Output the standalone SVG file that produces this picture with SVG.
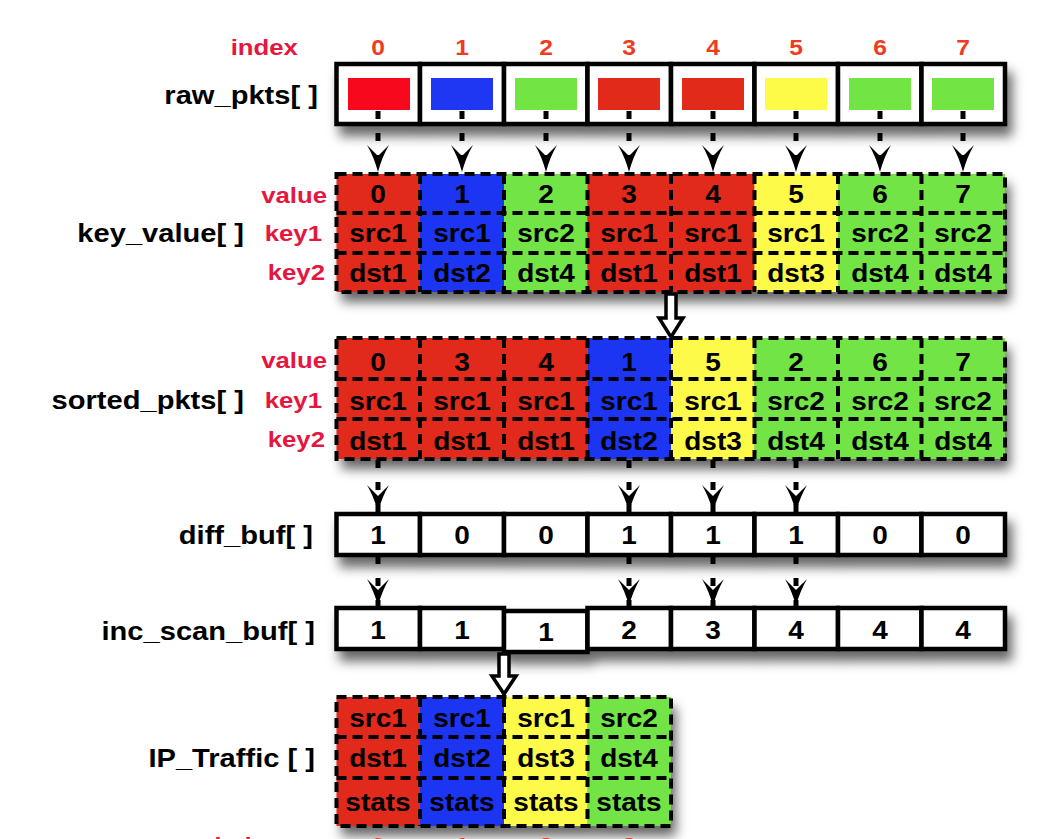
<svg xmlns="http://www.w3.org/2000/svg" width="1045" height="839" viewBox="0 0 1045 839">
  <style>
    text { font-family: "Liberation Sans", Arial, Helvetica, sans-serif; font-weight: bold; fill: #000;
           transform-box: fill-box; transform-origin: center; transform: scaleX(1.12); }
    text.end { text-anchor: end; transform-origin: right center; }
    .name { font-size: 26px; }
    .tag { font-size: 23px; fill: #e5173f; }
    .idx { font-size: 22px; fill: #f03a22; text-anchor: middle; }
    .cell { font-size: 25px; text-anchor: middle; }
    .num { font-size: 25px; text-anchor: middle; }
    .box { fill: #fff; stroke: #000; stroke-width: 4.5; }
    .grid { fill: none; stroke: #000; stroke-width: 4; stroke-dasharray: 10 6; }
    .r0 { fill: #f7081c; } .r { fill: #e22a1a; } .b { fill: #1f36f2; }
    .g { fill: #72e444; } .y { fill: #fefa48; }
    .stem { stroke: #000; stroke-width: 5; stroke-dasharray: 8 14; fill: none; marker-end: url(#head); }
    .fat { fill: #fff; stroke: #000; stroke-width: 3.5; stroke-linejoin: miter; }
  </style>
  <defs>
    <filter id="shadow" x="-10%" y="-30%" width="125%" height="190%">
      <feGaussianBlur in="SourceAlpha" stdDeviation="6"/>
      <feOffset dx="5" dy="10" result="blur"/>
      <feFlood flood-color="#000" flood-opacity="0.6"/>
      <feComposite in2="blur" operator="in"/>
      <feMerge><feMergeNode/><feMergeNode in="SourceGraphic"/></feMerge>
    </filter>
    <marker id="head" markerUnits="userSpaceOnUse" viewBox="0 -12 28 24" refX="27" refY="0"
            markerWidth="28" markerHeight="24" orient="auto">
      <path d="M27,0 Q12,-4 0,-11 Q8,-3 11,0 Q8,3 0,11 Q12,4 27,0 Z" fill="#000"/>
    </marker>
  </defs>

  <rect width="1045" height="839" fill="#fff"/>

  <!-- column headers -->
  <g id="index-header">
    <text class="tag end" x="298" y="55">index</text>
    <text class="idx" x="378" y="55">0</text>
    <text class="idx" x="462" y="55">1</text>
    <text class="idx" x="546" y="55">2</text>
    <text class="idx" x="629" y="55">3</text>
    <text class="idx" x="713" y="55">4</text>
    <text class="idx" x="796" y="55">5</text>
    <text class="idx" x="880" y="55">6</text>
    <text class="idx" x="963" y="55">7</text>
  </g>

  <!-- raw packets -->
  <g id="raw_pkts">
    <text class="name end" x="318" y="104">raw_pkts[ ]</text>
    <g filter="url(#shadow)">
      <rect class="box" x="336.5" y="64" width="83.5" height="60"/>
      <rect class="box" x="420" y="64" width="84" height="60"/>
      <rect class="box" x="504" y="64" width="83.5" height="60"/>
      <rect class="box" x="587.5" y="64" width="83.5" height="60"/>
      <rect class="box" x="671" y="64" width="83.5" height="60"/>
      <rect class="box" x="754.5" y="64" width="83.5" height="60"/>
      <rect class="box" x="838" y="64" width="83.5" height="60"/>
      <rect class="box" x="921.5" y="64" width="83.5" height="60"/>
    </g>
    <rect class="r0" x="348" y="78" width="62" height="32"/>
    <rect class="b" x="431" y="78" width="62" height="32"/>
    <rect class="g" x="515" y="78" width="62" height="32"/>
    <rect class="r" x="598" y="78" width="62" height="32"/>
    <rect class="r" x="682" y="78" width="62" height="32"/>
    <rect class="y" x="765" y="78" width="62" height="32"/>
    <rect class="g" x="849" y="78" width="62" height="32"/>
    <rect class="g" x="932" y="78" width="62" height="32"/>
  </g>

  <!-- key/value pairs -->
  <g id="key_value">
    <text class="name end" x="244" y="242">key_value[ ]</text>
    <text class="tag end" x="327" y="203">value</text>
    <text class="tag end" x="322" y="241">key1</text>
    <text class="tag end" x="325" y="280">key2</text>
    <g filter="url(#shadow)">
      <rect class="r" x="336.5" y="174" width="83.5" height="118"/>
      <rect class="b" x="420" y="174" width="84" height="118"/>
      <rect class="g" x="504" y="174" width="83.5" height="118"/>
      <rect class="r" x="587.5" y="174" width="167" height="118"/>
      <rect class="y" x="754.5" y="174" width="83.5" height="118"/>
      <rect class="g" x="838" y="174" width="167" height="118"/>
    </g>
    <rect class="grid" x="336.5" y="174" width="668.5" height="118"/>
    <path class="grid" d="M336.5,213H1005M336.5,253H1005M420,174V292M504,174V292M587.5,174V292M671,174V292M754.5,174V292M838,174V292M921.5,174V292"/>
    <text class="cell" x="378" y="203">0</text><text class="cell" x="462" y="203">1</text>
    <text class="cell" x="546" y="203">2</text><text class="cell" x="629" y="203">3</text>
    <text class="cell" x="713" y="203">4</text><text class="cell" x="796" y="203">5</text>
    <text class="cell" x="880" y="203">6</text><text class="cell" x="963" y="203">7</text>
    <text class="cell" x="378" y="242">src1</text><text class="cell" x="462" y="242">src1</text>
    <text class="cell" x="546" y="242">src2</text><text class="cell" x="629" y="242">src1</text>
    <text class="cell" x="713" y="242">src1</text><text class="cell" x="796" y="242">src1</text>
    <text class="cell" x="880" y="242">src2</text><text class="cell" x="963" y="242">src2</text>
    <text class="cell" x="378" y="282">dst1</text><text class="cell" x="462" y="282">dst2</text>
    <text class="cell" x="546" y="282">dst4</text><text class="cell" x="629" y="282">dst1</text>
    <text class="cell" x="713" y="282">dst1</text><text class="cell" x="796" y="282">dst3</text>
    <text class="cell" x="880" y="282">dst4</text><text class="cell" x="963" y="282">dst4</text>
  </g>

  <!-- sorted packets -->
  <g id="sorted_pkts">
    <text class="name end" x="244" y="409">sorted_pkts[ ]</text>
    <text class="tag end" x="327" y="368">value</text>
    <text class="tag end" x="322" y="408">key1</text>
    <text class="tag end" x="325" y="447">key2</text>
    <g filter="url(#shadow)">
      <rect class="r" x="336.5" y="338" width="251" height="121"/>
      <rect class="b" x="587.5" y="338" width="83.5" height="121"/>
      <rect class="y" x="671" y="338" width="83.5" height="121"/>
      <rect class="g" x="754.5" y="338" width="250.5" height="121"/>
    </g>
    <rect class="grid" x="336.5" y="338" width="668.5" height="121"/>
    <path class="grid" d="M336.5,379H1005M336.5,419H1005M420,338V459M504,338V459M587.5,338V459M671,338V459M754.5,338V459M838,338V459M921.5,338V459"/>
    <text class="cell" x="378" y="371">0</text><text class="cell" x="462" y="371">3</text>
    <text class="cell" x="546" y="371">4</text><text class="cell" x="629" y="371">1</text>
    <text class="cell" x="713" y="371">5</text><text class="cell" x="796" y="371">2</text>
    <text class="cell" x="880" y="371">6</text><text class="cell" x="963" y="371">7</text>
    <text class="cell" x="378" y="410">src1</text><text class="cell" x="462" y="410">src1</text>
    <text class="cell" x="546" y="410">src1</text><text class="cell" x="629" y="410">src1</text>
    <text class="cell" x="713" y="410">src1</text><text class="cell" x="796" y="410">src2</text>
    <text class="cell" x="880" y="410">src2</text><text class="cell" x="963" y="410">src2</text>
    <text class="cell" x="378" y="450">dst1</text><text class="cell" x="462" y="450">dst1</text>
    <text class="cell" x="546" y="450">dst1</text><text class="cell" x="629" y="450">dst2</text>
    <text class="cell" x="713" y="450">dst3</text><text class="cell" x="796" y="450">dst4</text>
    <text class="cell" x="880" y="450">dst4</text><text class="cell" x="963" y="450">dst4</text>
  </g>

  <!-- boundary flags -->
  <g id="diff_buf">
    <text class="name end" x="313" y="544">diff_buf[ ]</text>
    <g filter="url(#shadow)">
      <rect class="box" x="336.5" y="514" width="83.5" height="41"/>
      <rect class="box" x="420" y="514" width="84" height="41"/>
      <rect class="box" x="504" y="514" width="83.5" height="41"/>
      <rect class="box" x="587.5" y="514" width="83.5" height="41"/>
      <rect class="box" x="671" y="514" width="83.5" height="41"/>
      <rect class="box" x="754.5" y="514" width="83.5" height="41"/>
      <rect class="box" x="838" y="514" width="83.5" height="41"/>
      <rect class="box" x="921.5" y="514" width="83.5" height="41"/>
    </g>
    <text class="num" x="378" y="544">1</text><text class="num" x="462" y="544">0</text>
    <text class="num" x="546" y="544">0</text><text class="num" x="629" y="544">1</text>
    <text class="num" x="713" y="544">1</text><text class="num" x="796" y="544">1</text>
    <text class="num" x="880" y="544">0</text><text class="num" x="963" y="544">0</text>
  </g>

  <!-- inclusive scan -->
  <g id="inc_scan_buf">
    <text class="name end" x="315" y="640">inc_scan_buf[ ]</text>
    <g filter="url(#shadow)">
      <rect class="box" x="336.5" y="608" width="83.5" height="41"/>
      <rect class="box" x="420" y="608" width="84" height="41"/>
      <rect class="box" x="504" y="611" width="83.5" height="41"/>
      <rect class="box" x="587.5" y="608" width="83.5" height="41"/>
      <rect class="box" x="671" y="608" width="83.5" height="41"/>
      <rect class="box" x="754.5" y="608" width="83.5" height="41"/>
      <rect class="box" x="838" y="608" width="83.5" height="41"/>
      <rect class="box" x="921.5" y="608" width="83.5" height="41"/>
    </g>
    <text class="num" x="378" y="639">1</text><text class="num" x="462" y="639">1</text>
    <text class="num" x="546" y="641">1</text><text class="num" x="629" y="639">2</text>
    <text class="num" x="713" y="639">3</text><text class="num" x="796" y="639">4</text>
    <text class="num" x="880" y="639">4</text><text class="num" x="963" y="639">4</text>
  </g>

  <!-- per-flow traffic records -->
  <g id="ip_traffic">
    <text class="name end" x="315" y="767">IP_Traffic [ ]</text>
    <g filter="url(#shadow)">
      <rect class="r" x="336.5" y="697" width="83.5" height="129"/>
      <rect class="b" x="420" y="697" width="84" height="129"/>
      <rect class="y" x="504" y="697" width="83.5" height="129"/>
      <rect class="g" x="587.5" y="697" width="83.5" height="129"/>
    </g>
    <rect class="grid" x="336.5" y="697" width="334.5" height="129"/>
    <path class="grid" d="M336.5,737H671M336.5,778H671M420,697V826M504,697V826M587.5,697V826"/>
    <text class="cell" x="378" y="727">src1</text><text class="cell" x="462" y="727">src1</text>
    <text class="cell" x="546" y="727">src1</text><text class="cell" x="629" y="727">src2</text>
    <text class="cell" x="378" y="767">dst1</text><text class="cell" x="462" y="767">dst2</text>
    <text class="cell" x="546" y="767">dst3</text><text class="cell" x="629" y="767">dst4</text>
    <text class="cell" x="378" y="811">stats</text><text class="cell" x="462" y="811">stats</text>
    <text class="cell" x="546" y="811">stats</text><text class="cell" x="629" y="811">stats</text>
  </g>

  <!-- second index header, running past the lower edge -->
  <g id="index-footer">
    <text class="tag" x="218" y="853" style="font-size:22px">index</text>
    <text class="idx" x="378" y="853">0</text>
    <text class="idx" x="462" y="853">1</text>
    <text class="idx" x="546" y="853">2</text>
    <text class="idx" x="629" y="853">3</text>
  </g>

  <!-- connectors -->
  <g id="connectors">
    <path class="stem" d="M378,111V172"/>
    <path class="stem" d="M462,111V172"/>
    <path class="stem" d="M546,111V172"/>
    <path class="stem" d="M629,111V172"/>
    <path class="stem" d="M713,111V172"/>
    <path class="stem" d="M796,111V172"/>
    <path class="stem" d="M880,111V172"/>
    <path class="stem" d="M963,111V172"/>

    <path class="fat" d="M666,294H676V318H683L671,337L659,318H666Z"/>

    <path class="stem" d="M378,460V512"/>
    <path class="stem" d="M629,460V512"/>
    <path class="stem" d="M713,460V512"/>
    <path class="stem" d="M796,460V512"/>

    <path class="stem" d="M378,556V606"/>
    <path class="stem" d="M629,556V606"/>
    <path class="stem" d="M713,556V606"/>
    <path class="stem" d="M796,556V606"/>

    <path class="fat" d="M499,654H509V676H516L504,694L492,676H499Z"/>
  </g>
</svg>
